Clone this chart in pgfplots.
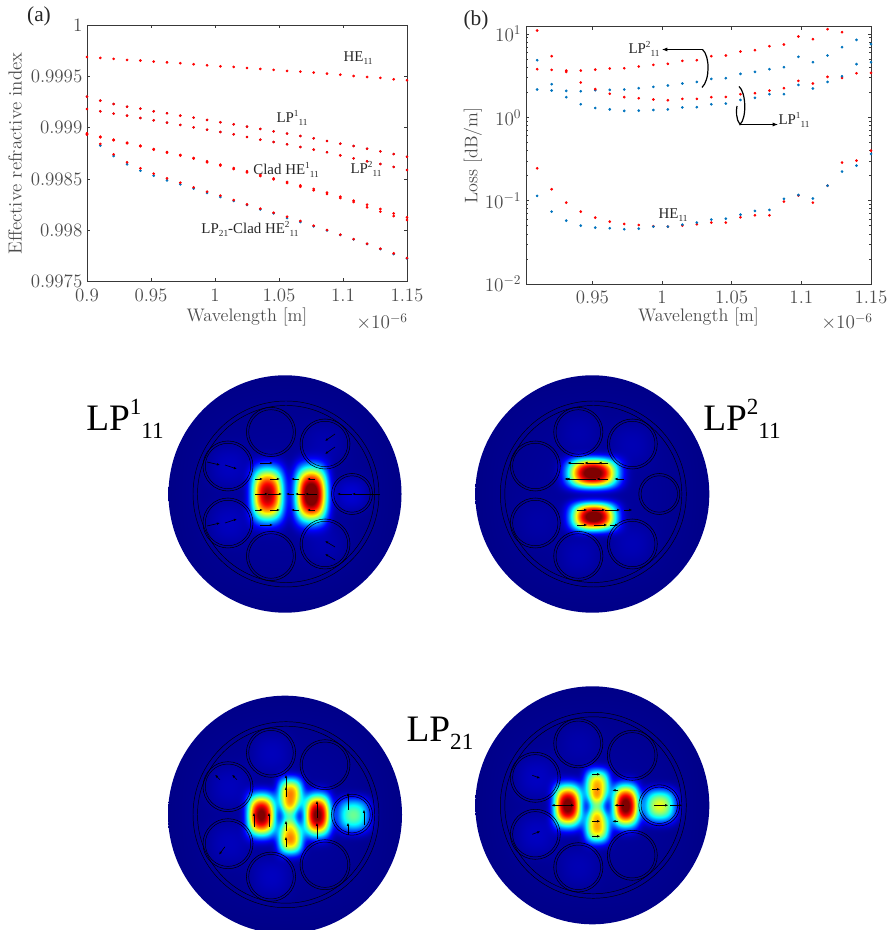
\documentclass[border=0pt]{standalone}
\usepackage{fontspec}
\usepackage{graphicx}
\usepackage{pgfplots}
\usepackage{pgfplotstable}
\pgfplotsset{compat=1.18}
\usetikzlibrary{arrows.meta}
\newfontfamily\tms{Liberation Serif}
\newcommand\sps[2]{\raisebox{.42em}{\scalebox{.62}{#1}}\raisebox{-.22em}{\scalebox{.62}{#2}}}
\newcommand\sbb[1]{\raisebox{-.22em}{\scalebox{.62}{#1}}}
\definecolor{mred}{rgb}{1,0,0}
\definecolor{mblue}{rgb}{0,0.45,0.74}
\definecolor{axc}{gray}{0.22}
\definecolor{txc}{gray}{0.30}
\pgfplotstableread{
w he lpa lpb clad cladb lpr lpq
0.9000 0.999688 0.999302 0.999182 0.998938 0.998932 0.998945 0.998938
0.9104 0.999679 0.999263 0.999159 0.998912 0.998906 0.998841 0.998825
0.9208 0.999669 0.999230 0.999136 0.998883 0.998877 0.998740 0.998724
0.9313 0.999659 0.999204 0.999117 0.998854 0.998848 0.998662 0.998643
0.9417 0.999653 0.999185 0.999094 0.998825 0.998819 0.998604 0.998581
0.9521 0.999643 0.999159 0.999071 0.998792 0.998786 0.998552 0.998532
0.9625 0.999636 0.999140 0.999049 0.998763 0.998757 0.998506 0.998487
0.9729 0.999627 0.999117 0.999026 0.998734 0.998728 0.998464 0.998448
0.9833 0.999617 0.999097 0.999003 0.998704 0.998698 0.998419 0.998406
0.9938 0.999607 0.999075 0.998980 0.998672 0.998662 0.998377 0.998364
1.0042 0.999597 0.999052 0.998958 0.998640 0.998630 0.998338 0.998325
1.0146 0.999591 0.999032 0.998935 0.998607 0.998597 0.998295 0.998286
1.0250 0.999581 0.999010 0.998909 0.998575 0.998565 0.998253 0.998247
1.0354 0.999571 0.998987 0.998883 0.998539 0.998529 0.998211 0.998204
1.0458 0.999562 0.998964 0.998860 0.998506 0.998496 0.998172 0.998165
1.0563 0.999552 0.998942 0.998838 0.998471 0.998461 0.998133 0.998120
1.0667 0.999545 0.998919 0.998812 0.998438 0.998425 0.998091 0.998081
1.0771 0.999536 0.998896 0.998786 0.998403 0.998390 0.998045 0.998039
1.0875 0.999526 0.998870 0.998760 0.998367 0.998354 0.998003 0.998000
1.0979 0.999516 0.998844 0.998730 0.998328 0.998315 0.997958 0.997955
1.1083 0.999503 0.998821 0.998701 0.998289 0.998276 0.997915 0.997912
1.1188 0.999493 0.998795 0.998672 0.998250 0.998224 0.997870 0.997867
1.1292 0.999484 0.998769 0.998646 0.998208 0.998182 0.997821 0.997818
1.1396 0.999471 0.998743 0.998617 0.998165 0.998139 0.997776 0.997769
1.1500 0.999461 0.998717 0.998588 0.998127 0.998101 0.997730 0.997727
}\tabA
\pgfplotstableread{
w lptr lptb lpor lpob her heb
0.9104 10.96 4.83 3.77 2.15 0.244 0.114
0.9208 5.40 2.49 3.70 2.09 0.137 0.0738
0.9313 3.63 2.07 3.50 1.74 0.0946 0.0575
0.9417 3.63 2.05 2.61 1.43 0.0738 0.0501
0.9521 3.73 2.11 2.17 1.29 0.0625 0.0474
0.9625 3.84 2.13 1.91 1.24 0.0560 0.0466
0.9729 3.87 2.15 1.74 1.19 0.0525 0.0453
0.9833 4.06 2.23 1.69 1.20 0.0510 0.0461
0.9938 4.25 2.31 1.63 1.22 0.0492 0.0488
1.0042 4.37 2.40 1.60 1.24 0.0488 0.0488
1.0146 4.74 2.54 1.66 1.31 0.0501 0.0515
1.0250 4.83 2.65 1.66 1.32 0.0520 0.0545
1.0354 5.40 2.88 1.74 1.43 0.0545 0.0592
1.0458 5.50 2.94 1.75 1.46 0.0545 0.0608
1.0563 6.14 3.31 1.89 1.61 0.0631 0.0679
1.0667 6.37 3.50 1.94 1.71 0.0667 0.0752
1.0771 7.11 3.77 2.09 1.89 0.0667 0.0773
1.0875 7.45 3.98 2.23 1.89 0.0973 0.105
1.0979 9.29 5.30 2.73 2.44 0.115 0.117
1.1083 8.63 4.57 2.54 2.21 0.0946 0.106
1.1188 11.38 5.50 3.05 2.65 0.151 0.151
1.1292 10.47 6.92 2.96 3.10 0.286 0.223
1.1396 nan 8.47 3.37 4.33 0.302 0.263
1.1500 nan 7.52 3.40 4.57 0.398 0.363
}\tabB
\pgfplotsset{
  mm/.style={scale only axis,clip=false,axis line style={color=axc,line width=.5pt},
    tick style={color=axc,line width=.4pt},major tick length=2.6pt,minor tick length=1.4pt,
    tick align=inside,
    tick label style={color=txc,font=\fontsize{14.2}{16}\selectfont},
    xticklabel style={yshift=-2pt}},
  rd/.style={only marks,mark=*,mark size=.8pt,color=mred,mark options={draw=none,fill=mred}},
  bl/.style={only marks,mark=*,mark size=.8pt,color=mblue,mark options={draw=none,fill=mblue}},
  bls/.style={bl,mark size=.6pt},
}
% field maps: a sum of soft lobes, shown through the jet colour map
\def\T#1#2#3#4#5{2 copy #2 sub #4 div dup mul dup dup mul add exch #1 sub #3 div dup mul dup dup mul add add neg 2.71828 exch exp #5 mul 4 -1 roll add 3 1 roll }
\def\CL{dup abs exch 1 sub abs sub 1 add 2 div }
\def\JET{pop pop \CL dup 4 mul 3 sub abs 1.5 exch sub \CL exch dup 4 mul 2 sub abs 1.5 exch sub \CL exch 4 mul 1 sub abs 1.5 exch sub \CL }
\def\ST{4.68 mul neg exch 4.68 mul exch 0 3 1 roll \T{0}{0}{135}{135}{0.03}}
\newcommand\field[2]{\pgfdeclarefunctionalshading{#1}{\pgfpoint{-50bp}{-50bp}}{\pgfpoint{50bp}{50bp}}{}{\ST #2 \JET}}
\field{fieldA}{\T{-57}{-28}{25}{25}{0.04}\T{-57}{29}{25}{25}{0.04}\T{67}{0}{20}{20}{0.06}\T{40}{-50}{25}{25}{0.025}\T{40}{50}{25}{25}{0.025}\T{-18}{0}{19.5}{32}{0.95}\T{26}{0}{19.5}{33}{1.08}}
\field{fieldB}{\T{-14}{-62}{24}{24}{0.022}\T{40}{-50}{25}{25}{0.028}\T{40}{50}{25}{25}{0.03}\T{-14}{62}{24}{24}{0.028}\T{-57}{29}{25}{25}{0.015}\T{0}{-21}{30}{17.5}{1.05}\T{1}{22}{27}{16.5}{1.05}}
\field{fieldC}{\T{-14}{-62}{24}{24}{0.035}\T{-57}{-28}{25}{25}{0.035}\T{-57}{29}{25}{25}{0.035}\T{-14}{62}{24}{24}{0.04}\T{-24}{0}{17}{25}{1.0}\T{32}{0}{16}{25}{1.0}\T{5}{-21}{15}{19}{0.72}\T{5}{23}{15}{19}{0.72}\T{4}{0}{10}{16}{0.36}\T{68}{0}{20}{20}{0.46}}
\field{fieldD}{\T{-14}{-62}{24}{24}{0.02}\T{-57}{-28}{25}{25}{0.042}\T{-57}{29}{25}{25}{0.042}\T{-14}{62}{24}{24}{0.028}\T{-25}{0}{17}{25}{1.02}\T{33}{0}{16}{25}{1.02}\T{4.5}{-20}{15}{19}{0.68}\T{4.5}{21}{15}{19}{0.68}\T{4}{0}{10}{16}{0.36}\T{67}{0}{19.5}{19.5}{0.58}}
% offsets of the seven capillaries from the fibre centre, in reference pixels
\newcommand\tubes{-14/-62/24.6,40/-50/25,67/0/20.5,40/50/25,-14/62/24.6,-57/29/25,-57/-28/25}
\newcommand\outlines{%
  \draw[black,line width=.35pt] (1,0) circle (93);
  \draw[black,line width=.35pt] (1,0) circle (88.5);
  \foreach \ta/\tb/\tr in \tubes {
    \draw[black,line width=.4pt] (\ta,\tb) circle (\tr);
    \draw[black,line width=.35pt] (\ta,\tb) circle ({\tr-2.3});
  }}
\tikzset{fa/.style={black,line width=.45pt,-{Latex[length=2.4pt,width=1.9pt]}}}
\newcommand\arrs[1]{\foreach \pa/\pb/\pc/\pd in {#1} {\draw[fa] (\pa,\pb)--(\pc,\pd);}}
\begin{document}
\begin{tikzpicture}[x=.75pt,y=.75pt]
\useasboundingbox (0,0) rectangle (891,930);
%---------- (a)
\begin{axis}[mm,at={(65.25pt,486.2pt)},anchor=south west,width=240pt,height=192.6pt,
  xmin=0.9,xmax=1.15,ymin=0.9975,ymax=1,
  xtick={0.9,0.95,1,1.05,1.1,1.15},xticklabels={0.9,0.95,1,1.05,1.1,1.15},
  ytick={0.9975,0.998,0.9985,0.999,0.9995,1},yticklabels={0.9975,0.998,0.9985,0.999,0.9995,1},
  xlabel={Wavelength [m]},ylabel={Effective refractive index},
  every axis x label/.style={at={(axis description cs:0.5,-0.136)},anchor=center,color=txc,font=\fontsize{13.6}{16}\selectfont},
  every axis y label/.style={at={(axis description cs:-0.225,0.5)},rotate=90,anchor=center,color=txc,font=\fontsize{14.2}{16}\selectfont}]
\addplot[bls] table[x=w,y=lpa] {\tabA};
\addplot[bls] table[x=w,y=lpb] {\tabA};
\addplot[bl] table[x=w,y=lpq] {\tabA};
\addplot[rd] table[x=w,y=he] {\tabA};
\addplot[rd] table[x=w,y=lpa] {\tabA};
\addplot[rd] table[x=w,y=lpb] {\tabA};
\addplot[rd] table[x=w,y=clad] {\tabA};
\addplot[rd] table[x=w,y=cladb] {\tabA};
\addplot[rd] table[x=w,y=lpr] {\tabA};
\end{axis}
%---------- (b)
\begin{axis}[mm,at={(394.5pt,484.5pt)},anchor=south west,width=258.75pt,height=193pt,
  ymode=log,xmin=0.9024,xmax=1.15,ymin=0.01,ymax=12.2,
  xtick={0.95,1,1.05,1.1,1.15},xticklabels={0.95,1,1.05,1.1,1.15},
  xlabel={Wavelength [m]},ylabel={Loss [dB/m]},
  every axis x label/.style={at={(axis description cs:0.5,-0.128)},anchor=center,color=txc,font=\fontsize{13.6}{16}\selectfont},
  every axis y label/.style={at={(axis description cs:-0.154,0.5)},rotate=90,anchor=center,color=txc,font=\fontsize{13.6}{16}\selectfont}]
\addplot[bl] table[x=w,y=lptb] {\tabB};
\addplot[rd] table[x=w,y=lptr] {\tabB};
\addplot[rd] table[x=w,y=lpor] {\tabB};
\addplot[bl] table[x=w,y=lpob] {\tabB};
\addplot[rd] table[x=w,y=her] {\tabB};
\addplot[bl] table[x=w,y=heb] {\tabB};
\end{axis}
%---------- everything else in reference pixels, y downwards
\begin{scope}[shift={(0,930)},yscale=-1]
\node[txc,font=\fontsize{14.2}{16}\selectfont,anchor=center] at (382,322) {$\times 10^{-6}$};
\node[txc,font=\fontsize{14.2}{16}\selectfont,anchor=center] at (847,322) {$\times 10^{-6}$};
\begin{scope}[font=\tms\fontsize{16}{18}\selectfont,black!85]
\node at (39,16) {(a)};
\node at (476,20) {(b)};
\end{scope}
\begin{scope}[font=\tms\fontsize{11.2}{13}\selectfont,black!85,inner sep=0pt]
\node at (358,58) {HE\sbb{11}};
\node at (292,118) {LP\sps{1}{11}};
\node at (286,170) {Clad HE\sps{1}{11}};
\node at (366,169) {LP\sps{2}{11}};
\node at (250,229) {LP\sbb{21}-Clad HE\sps{2}{11}};
\node at (644,49) {LP\sps{2}{11}};
\node at (794,120) {LP\sps{1}{11}};
\node at (673,215) {HE\sbb{11}};
\end{scope}
\draw[black,line width=.6pt,-{Latex[length=4pt,width=3pt]}] (703,49.5)--(662,49.5);
\draw[black,line width=.6pt,-{Latex[length=4pt,width=3pt]}] (740,124.5)--(778,124.5);
\draw[black,line width=.9pt] (702.5,49.5) .. controls (710,56) and (710,80) .. (702,87.5);
\draw[black,line width=.9pt] (739,86.5) .. controls (746,92) and (747,118) .. (740,124.5) .. controls (736,120) and (736,110) .. (737,106);
\begin{scope}[font=\tms\fontsize{28}{30}\selectfont,black,inner sep=0pt]
\node at (125,419) {LP\sps{1}{11}};
\node at (742,419) {LP\sps{2}{11}};
\node at (440,733) {LP\sbb{21}};
\end{scope}
%---- LP1_11
\begin{scope}[shift={(285,494)}]
\shade[shading=fieldA] (0,0) ellipse (116.5 and 118.7);
\outlines
\arrs{-30/0/-17/0,-17/0/-3/0,9/0/1/0,32/0/20/0,20/0/10/0,95/0/67/0,67/0/52/0,
 -30/-15/-22/-15,-15/-15/-5/-15,30/-15/22/-15,14/-15/6/-15,-30/16/-22/16,-15/16/-5/16,30/16/22/16,14/16/6/16,
 -25/-31/-12/-31,-25/31/-12/31,-78/-32/-65/-29,-60/-29/-48/-25,-60/29/-48/25,-78/32/-65/29,
 50/-60/40/-53,50/-47/40/-40,50/53/40/47,50/66/40/60}
\end{scope}
%---- LP2_11
\begin{scope}[shift={(592.3,494)}]
\shade[shading=fieldB] (0,0) ellipse (117 and 118.7);
\outlines
\arrs{-8/-31/-25/-31,8/-31/-8/-31,16/-31/6/-31,-14/-15/-28/-15,4/-15/-26/-15,16/-15/4/-15,32/-15/22/-15,
 -15/16/-5/16,0/16/13/16,13/16/28/16,32/16/40/16,-15/31/-5/31,2/31/15/31,18/31/26/31}
\end{scope}
%---- LP21 left
\begin{scope}[shift={(285,814.7)}]
\shade[shading=fieldC] (0,0) ellipse (117 and 119);
\outlines
\arrs{-31/12/-31/-2,-16/12/-16/-2,1/-26/1/-40,1/-18/1/-28,1/16/1/6,1/32/1/22,32/3/32/-14,32/24/32/8,
 63/-5/63/-22,63/20/63/8,79/10/79/-5,-65/-35/-70/-40,-48/-35/-53/-40,-60/32/-66/40}
\end{scope}
%---- LP21 right
\begin{scope}[shift={(592.3,805.3)}]
\shade[shading=fieldD] (0,0) ellipse (117 and 119);
\outlines
\arrs{-25/0/-41/0,-25/0/-18/0,0/-31/8/-31,0/-16/8/-16,0/16/8/16,0/31/8/31,32/0/22/0,62/0/76/0,78/0/90/0,
 -60/-30/-52/-27,-60/29/-52/26,26/-15/20/-15,26/16/20/16}
\end{scope}
\end{scope}
\end{tikzpicture}
\end{document}
